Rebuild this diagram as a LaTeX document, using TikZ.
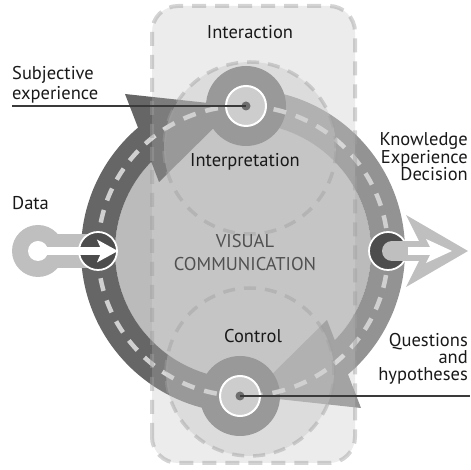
\documentclass[tikz,border=0pt]{standalone}
\usepackage{fontspec}
\setmainfont{PT Sans}
\usetikzlibrary{calc,arrows.meta}

\definecolor{rectgray}{HTML}{E9E9E9}
\definecolor{innergray}{HTML}{BBBBBB}
\definecolor{ringdark}{HTML}{666666}
\definecolor{ringmid}{HTML}{939393}
\definecolor{hubgray}{HTML}{666666}
\definecolor{dashgray}{HTML}{D0D0D0}
\definecolor{zonegray}{HTML}{C6C6C6}
\definecolor{bordergray}{HTML}{A0A0A0}
\definecolor{holegray}{HTML}{CDCDCD}
\definecolor{dotgray}{HTML}{6E6E6E}
\definecolor{keygray}{HTML}{BFBFBF}
\definecolor{portgray}{HTML}{4D4D4D}
\definecolor{leadergray}{HTML}{3A3A3A}
\definecolor{captiongray}{HTML}{505050}

\begin{document}
\begin{tikzpicture}
  [x=1pt, y=1pt,
   every node/.style={font=\fontsize{18.5}{17.5}\selectfont, inner sep=0pt, text=black!90},
   hub/.style={circle, fill=hubgray, minimum size=80pt},
   hole/.style={circle, fill=holegray, draw=white, line width=2pt, minimum size=40pt},
   dot/.style={circle, fill=dotgray, minimum size=9pt},
   port/.style={circle, fill=portgray, draw=white, line width=1.8pt, minimum size=38pt},
   ringdash/.style={dashgray, line width=4.5pt, dash pattern=on 13pt off 10pt},
   zone/.style={fill=zonegray, fill opacity=0.4, draw=bordergray, draw opacity=0.45,
                line width=3.5pt, dash pattern=on 12pt off 9pt},
   leader/.style={leadergray, line width=1.2pt},
   whitearrow/.style={white, line width=8pt,
                      -{Stealth[length=21pt, width=23pt, inset=5pt, line width=0pt]}}]

  \useasboundingbox (0,0) rectangle (470,470);

  \coordinate (O) at (243,219);
  \coordinate (T) at (246,364);
  \coordinate (B) at (240,74);

  % interaction band, base fill
  \fill[rectgray, rounded corners=26pt] (152,7) rectangle (355,464);

  \fill[innergray] (O) circle[radius=128];

  % the two halves of the loop, each ending in a wide arrow head
  \fill[ringdark]
    ($(O)+(268.8:162)$) arc[start angle=268.8, end angle=130.4, radius=162]
    -- (125,376) -- (236,364) -- (159,288)
    -- ($(O)+(135.8:128)$) arc[start angle=135.8, end angle=268.8, radius=128] -- cycle;
  \fill[ringmid]
    ($(O)+(88.8:162)$) arc[start angle=88.8, end angle=-49.6, radius=162]
    -- (361,62) -- (250,74) -- (327,150)
    -- ($(O)+(-44.2:128)$) arc[start angle=-44.2, end angle=88.8, radius=128] -- cycle;

  \node[hub] (tophub) at (T) {};
  \node[hub] (bothub) at (B) {};

  \draw[ringdash] (O) circle[radius=145];

  % translucent band and the two zones on top
  \fill[white, fill opacity=0.15, rounded corners=26pt] (152,7) rectangle (355,464);
  \draw[zone] (250,322) circle[radius=86];
  \draw[zone] (250,98) circle[radius=84];
  \draw[bordergray, draw opacity=0.45, line width=4pt, dash pattern=on 14pt off 9pt,
        rounded corners=26pt] (152,7) rectangle (355,464);

  % hubs
  \node[hole] (tophole) at (T) {};
  \node[dot] (topdot) at (T) {};
  \node[hole] (bothole) at (B) {};
  \node[dot] (botdot) at (B) {};

  \coordinate (subjend) at (12,364);
  \coordinate (questend) at (470,74);
  \draw[leader] (subjend) -- (topdot.center);
  \draw[leader] (botdot.center) -- (questend);

  % data input
  \fill[keygray] (38,219) circle[radius=26];
  \fill[keygray] (38,202) rectangle (97,236);
  \node[port] (dataport) at (98,219) {};
  \node[circle, fill=white, minimum size=20pt] (datahole) at (38,219) {};
  \draw[whitearrow] (datahole.center) -- (dataport.east);

  % output
  \node[port] (outport) at (388,219) {};
  \coordinate (outtip) at (468,219);
  \draw[keygray, line width=20pt,
        -{Stealth[length=62pt, width=72pt, inset=18pt, line width=0pt]}]
    (392,219) -- (outtip);
  \node[circle, fill=keygray, minimum size=20pt] (outhole) at (392,219) {};
  \draw[white, line width=8pt,
        -{Stealth[length=26pt, width=24pt, inset=6pt, line width=0pt]}]
    (outport.east) -- (452,219);

  % labels
  \node (interaction) at (250,438) {Interaction};
  \node[align=left, anchor=west, font=\fontsize{18.5}{20}\selectfont]
    (subjective) at (12,385) {Subjective\\experience};
  \node[align=right, anchor=east] (knowledge) at (468,313) {Knowledge\\Experience\\Decision};
  \node[anchor=west] (data) at (12,267) {Data};
  \node (interp) at (245,308) {Interpretation};
  \node[align=center, text=captiongray, font=\fontsize{18.5}{23}\selectfont]
    (visual) at (245,217) {VISUAL\\COMMUNICATION};
  \node (control) at (253,134) {Control};
  \node[align=right, anchor=east, font=\fontsize{18.5}{17}\selectfont]
    (questions) at (468,111) {Questions\\and\\hypotheses};
\end{tikzpicture}
\end{document}
